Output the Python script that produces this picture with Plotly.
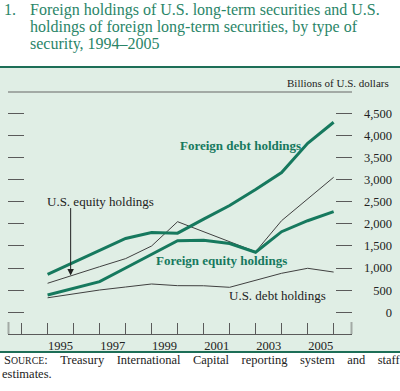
import plotly.graph_objects as go

# ---- data (billions of U.S. dollars, year-end) ----
years = [1994, 1995, 1996, 1997, 1998, 1999, 2000, 2001, 2002, 2003, 2004, 2005]
foreign_debt = [859, 1128, 1398, 1669, 1805, 1790, 2106, 2415, 2777, 3161, 3822, 4297]
foreign_equity = [391, 541, 692, 1002, 1320, 1619, 1628, 1556, 1357, 1823, 2071, 2275]
us_equity = [656, 848, 1031, 1214, 1499, 2049, 1823, 1597, 1370, 2072, 2562, 3053]
us_debt = [328, 414, 504, 572, 640, 602, 600, 565, 726, 882, 995, 910]
label_years = [1995, 1997, 1999, 2001, 2003, 2005]
y_ticks = [0, 500, 1000, 1500, 2000, 2500, 3000, 3500, 4000, 4500]

xdates = [f"{y}-12-31" for y in years]

TEAL = "#16795e"
TITLE = "#2a8568"
DARK = "#404040"
TICK = "#5a5a5a"
PANEL = "#e0eee5"
SERIF = "Liberation Serif, Times New Roman, serif"

W, H = 400, 391
ML, MR, MT, MB = 8, 8, 92, 57
PW = W - ML - MR
PH = H - MT - MB


def fx(px):
    return (px - ML) / PW


def fy(py):
    return (H - MB - py) / PH


fig = go.Figure()
fig.add_trace(go.Scatter(x=xdates, y=us_debt, mode="lines",
                         line=dict(color=DARK, width=1), name="U.S. debt holdings"))
fig.add_trace(go.Scatter(x=xdates, y=us_equity, mode="lines",
                         line=dict(color=DARK, width=1), name="U.S. equity holdings"))
fig.add_trace(go.Scatter(x=xdates, y=foreign_equity, mode="lines",
                         line=dict(color=TEAL, width=3), name="Foreign equity holdings"))
fig.add_trace(go.Scatter(x=xdates, y=foreign_debt, mode="lines",
                         line=dict(color=TEAL, width=3), name="Foreign debt holdings"))

yr = [-491, 4982]
xdom_end = fx(352)

fig.update_layout(
    width=W, height=H,
    margin=dict(l=ML, r=MR, t=MT, b=MB, pad=0),
    paper_bgcolor="white",
    plot_bgcolor="rgba(0,0,0,0)",
    showlegend=False,
    font=dict(family=SERIF, color="#222", size=12.5),
    xaxis=dict(
        type="date", domain=[0, xdom_end],
        range=["1993-06-23", "2006-09-15"],
        tickmode="array",
        tickvals=[f"{y}-07-02" for y in label_years],
        ticktext=[str(y) for y in label_years],
        ticks="", showgrid=False, zeroline=False,
        showline=True, linecolor=TICK, linewidth=1,
        tickfont=dict(family=SERIF, size=12.5, color="#222"),
        minor=dict(tickmode="linear", tick0="1994-01-01", dtick="M12",
                   ticks="inside", ticklen=11, tickcolor=TICK, tickwidth=1,
                   showgrid=False),
    ),
    yaxis=dict(
        range=yr, tickmode="array", tickvals=y_ticks,
        showticklabels=False, ticks="inside", ticklen=16,
        tickcolor=TICK, tickwidth=1, mirror="ticks",
        showline=False, showgrid=False, zeroline=False,
    ),
    yaxis2=dict(
        range=yr, overlaying="y", anchor="free", position=1.0, side="left",
        tickmode="array", tickvals=y_ticks,
        ticktext=[f"{v:,}" for v in y_ticks],
        ticks="", showline=False, showgrid=False, zeroline=False,
        tickfont=dict(family=SERIF, size=12.5, color="#222"),
    ),
)

# invisible trace to activate yaxis2
fig.add_trace(go.Scatter(x=[xdates[0]], y=[0], yaxis="y2", mode="markers",
                         marker=dict(opacity=0), hoverinfo="skip", showlegend=False))

shapes = [
    dict(type="rect", xref="paper", yref="paper", x0=fx(0), x1=fx(400),
         y0=fy(352), y1=fy(67), fillcolor=PANEL, line=dict(width=0), layer="below"),
    dict(type="line", xref="paper", yref="paper", x0=fx(0), x1=fx(400),
         y0=fy(67), y1=fy(67), line=dict(color="#1d6e57", width=2)),
    dict(type="line", xref="paper", yref="paper", x0=fx(0), x1=fx(400),
         y0=fy(352), y1=fy(352), line=dict(color="#1d6e57", width=2)),
    dict(type="line", xref="paper", yref="paper", x0=0, x1=xdom_end,
         y0=1, y1=1, line=dict(color="#a3aaa5", width=2)),
    dict(type="line", xref="paper", yref="paper", x0=fx(8.5), x1=fx(8.5),
         y0=fy(334), y1=fy(322), line=dict(color="#a3aaa5", width=2)),
    dict(type="line", xref="paper", yref="paper", x0=fx(351.5), x1=fx(351.5),
         y0=fy(334), y1=fy(322), line=dict(color="#a3aaa5", width=2)),
]
fig.update_layout(shapes=shapes)

ann = []


def text(px, py, s, size, color="#222", anchor="left", bold=False):
    ann.append(dict(xref="paper", yref="paper", x=fx(px), y=fy(py), text=f"<b>{s}</b>" if bold else s,
                    showarrow=False, xanchor=anchor, yanchor="middle",
                    font=dict(family=SERIF, size=size, color=color)))


# title
text(2, 9.5, "1.", 16, TITLE)
text(28, 9.5, "Foreign holdings of U.S. long-term securities and U.S.", 16, TITLE)
text(28, 27, "holdings of foreign long-term securities, by type of", 16, TITLE)
text(28, 44.5, "security, 1994\u20132005", 16, TITLE)
# units
text(391, 83, "Billions of U.S. dollars", 11, "#222", anchor="right")
# series labels
text(178, 145, "Foreign debt holdings", 13, TEAL, bold=True)
text(154, 260.7, "Foreign equity holdings", 13, TEAL, bold=True)
text(45, 201.7, "U.S. equity holdings", 13, "#222")
text(227, 295, "U.S. debt holdings", 13, "#222")
# source
gap = "\u00a0" * 4
src = gap.join(["S<span style='font-size:9.8px'>OURCE</span>:", "Treasury", "International",
                "Capital", "reporting", "system", "and", "staff"])
text(2, 360, src, 12.5, "#222")
text(0, 374, "estimates.", 12.5, "#222")

ann.append(dict(x="1995-11-20", y=830, xref="x", yref="y", text="", showarrow=True,
                ax=0, ay=-69, arrowhead=2, arrowsize=1.3, arrowwidth=1,
                arrowcolor="#222", standoff=0))

fig.update_layout(annotations=ann)

fig.write_html("out.html",
               config={"displayModeBar": False},
               post_script="document.body.style.margin='0';document.body.style.overflow='hidden';")
